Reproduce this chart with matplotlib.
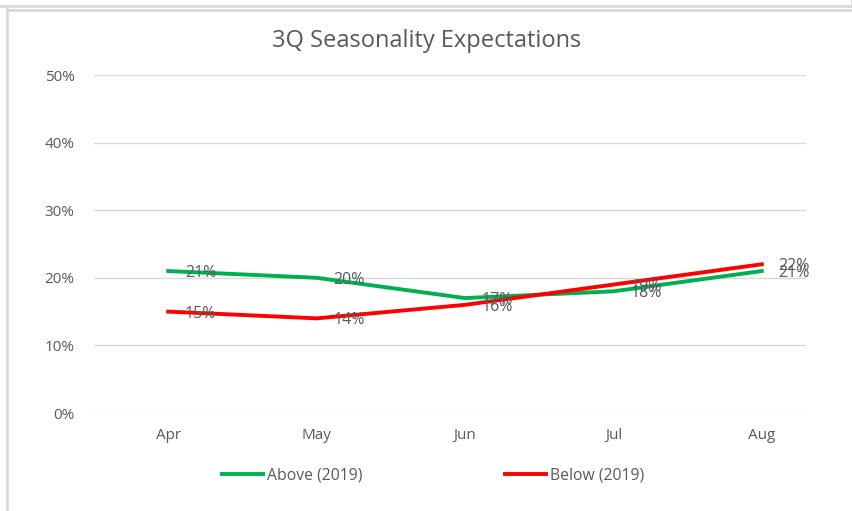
import matplotlib.pyplot as plt
from matplotlib.lines import Line2D
from matplotlib.ticker import PercentFormatter

months = ["Apr", "May", "Jun", "Jul", "Aug"]
above_2019 = [21, 20, 17, 18, 21]
below_2019 = [15, 14, 16, 19, 22]
y_ticks = [0, 10, 20, 30, 40, 50]

plt.rcParams['font.family'] = ['Open Sans', 'DejaVu Sans']
text_grey = '#595959'

W, H = 853, 511
fig = plt.figure(figsize=(8.53, 5.11), dpi=100)
# plot area spans 94..836 px, gridlines stop at 805 px like in the reference
ax = fig.add_axes([94 / W, 1 - 413 / H, 742 / W, 338 / H])

x = list(range(len(months)))
ax.plot(x, above_2019, color='#00B050', linewidth=2.8, label='Above (2019)', zorder=3)
ax.plot(x, below_2019, color='#FF0000', linewidth=2.8, label='Below (2019)', zorder=3)

# data labels to the right of each point
for series in (above_2019, below_2019):
    for xi, v in zip(x, series):
        ax.annotate(f"{v}%", (xi, v), xytext=(12, -1.5), textcoords='offset points',
                    ha='left', va='center', fontsize=11.5, color=text_grey, zorder=4)

ax.set_xlim(-0.5, len(months) - 0.5)
ax.set_ylim(0, 50)
ax.set_xticks(x)
ax.set_xticklabels(months)
ax.set_yticks(y_ticks)
ax.yaxis.set_major_formatter(PercentFormatter(decimals=0))
ax.tick_params(axis='both', length=0, labelsize=11, labelcolor=text_grey)
ax.tick_params(axis='y', pad=14)
ax.tick_params(axis='x', pad=11)
for t in y_ticks:
    ax.axhline(t, xmin=0.0, xmax=(805 - 94) / 742, color='#D9D9D9', linewidth=1, zorder=1)
for s in ax.spines.values():
    s.set_visible(False)

fig.text(0.5, 1 - 41 / H, "3Q Seasonality Expectations", ha='center', va='center',
         fontsize=17, color=text_grey)

# legend at the bottom
handles = [Line2D([], [], color='#00B050', linewidth=2.8),
           Line2D([], [], color='#FF0000', linewidth=2.8)]
fig.legend(handles, ['Above (2019)', 'Below (2019)'], loc='center',
           bbox_to_anchor=(0.508, 1 - 475 / H), ncol=2, frameon=False,
           fontsize=11.3, labelcolor=text_grey, handlelength=2.6, handletextpad=0.25,
           columnspacing=9.1)

# frame lines from the screenshot
border = '#D9D9D9'
fig.add_artist(Line2D([0, 852 / W], [1 - 6 / H, 1 - 6 / H], color=border, linewidth=2))
fig.add_artist(Line2D([852 / W, 852 / W], [1, 1 - 6 / H], color=border, linewidth=2))
fig.add_artist(Line2D([7 / W, 1], [1 - 10 / H, 1 - 10 / H], color=border, linewidth=2))
fig.add_artist(Line2D([7 / W, 7 / W], [0, 1 - 6 / H], color=border, linewidth=2))

fig.savefig("out.png", dpi=100)
